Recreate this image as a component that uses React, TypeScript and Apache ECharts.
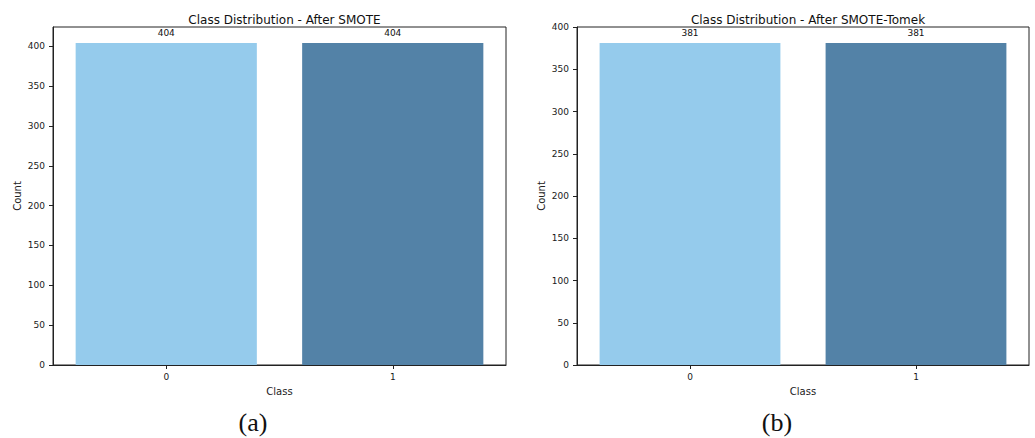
import React, { useEffect, useRef } from "react";
import * as echarts from "echarts";

const categories = ["0", "1"];
const smoteCounts = [404, 404];
const smoteTomekCounts = [381, 381];
const yTicks = [0, 50, 100, 150, 200, 250, 300, 350, 400];
const titles = ["Class Distribution - After SMOTE", "Class Distribution - After SMOTE-Tomek"];
const captions = ["(a)", "(b)"];
const barColors = ["#95CBEC", "#5382A7"];

export default function App() {
  const ref = useRef<HTMLDivElement>(null);
  useEffect(() => {
    if (!ref.current) return;
    const chart = echarts.init(ref.current, null, { renderer: "svg" });
    const grids = [
      { left: 53, top: 27, width: 453, height: 338 },
      { left: 577, top: 27, width: 452, height: 338 },
    ];
    const seriesData = [smoteCounts, smoteTomekCounts];
    const font = "DejaVu Sans";
    chart.setOption({
      animation: false,
      backgroundColor: "#ffffff",
      grid: grids.map((g) => ({ ...g, show: true, borderColor: "#222", borderWidth: 1, backgroundColor: "transparent", containLabel: false })),
      title: titles.map((t, i) => ({
        text: t,
        left: grids[i].left + grids[i].width / 2,
        top: 9,
        textAlign: "center",
        textStyle: { fontFamily: font, fontSize: 12, fontWeight: "normal", color: "#111" },
      })),
      xAxis: grids.map((_, i) => ({
        type: "category",
        gridIndex: i,
        data: categories,
        boundaryGap: true,
        name: "Class",
        nameLocation: "middle",
        nameGap: 21,
        nameTextStyle: { fontFamily: font, fontSize: 10, color: "#222" },
        axisLine: { show: true, lineStyle: { color: "#222", width: 1 } },
        axisTick: { show: true, alignWithLabel: true, length: 4, lineStyle: { color: "#222" } },
        axisLabel: { fontFamily: font, fontSize: 9, color: "#1a1a1a", margin: 7 },
        splitLine: { show: false },
      })),
      yAxis: grids.map((_, i) => ({
        type: "value",
        gridIndex: i,
        min: 0,
        max: (v: { max: number }) => v.max * 1.05,
        name: "Count",
        nameLocation: "middle",
        nameGap: 31,
        nameRotate: 90,
        nameTextStyle: { fontFamily: font, fontSize: 10, color: "#222" },
        axisLine: { show: true, lineStyle: { color: "#222", width: 1 } },
        axisTick: { show: true, length: 4, lineStyle: { color: "#222" }, customValues: yTicks },
        axisLabel: { fontFamily: font, fontSize: 9, color: "#1a1a1a", margin: 8, customValues: yTicks },
        splitLine: { show: false },
      })),
      series: seriesData.map((d, i) => ({
        type: "bar",
        xAxisIndex: i,
        yAxisIndex: i,
        barCategoryGap: "20%",
        data: d.map((v, j) => ({ value: v, itemStyle: { color: barColors[j] } })),
        label: { show: true, position: "top", distance: 6, fontFamily: font, fontSize: 9, color: "#111" },
      })),
      graphic: captions.map((c, i) => ({
        type: "text",
        x: [253, 777][i],
        y: 422,
        style: {
          text: c,
          font: '26px "Liberation Serif"',
          fill: "#111",
          textAlign: "center",
          textVerticalAlign: "middle",
        },
      })),
    });
    return () => chart.dispose();
  }, []);
  return <div ref={ref} style={{ position: "absolute", left: 0, top: 0, width: 1035, height: 438 }} />;
}
